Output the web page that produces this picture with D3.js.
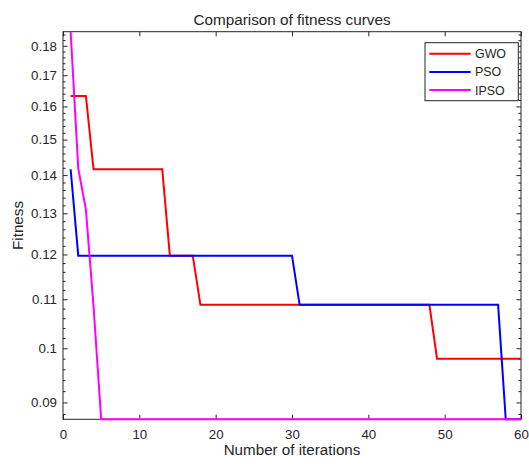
<!DOCTYPE html>
<html>
<head>
<meta charset="utf-8">
<script src="https://cdn.jsdelivr.net/npm/d3@7"></script>
<style>
  body { margin: 0; background: #fff; }
  text { font-family: "Liberation Sans", Arial, sans-serif; fill: #262626; }
</style>
</head>
<body>
<div id="chart"></div>
<script>
// data (breakpoints of the step curves)
var gwoIter = [1, 3, 4, 13, 14, 17, 18, 48, 49, 60];
var gwoFit = [0.1633, 0.1633, 0.1416, 0.1416, 0.1197, 0.1197, 0.1088, 0.1088, 0.0980, 0.0980];
var psoIter = [1, 2, 30, 31, 57, 58, 60];
var psoFit = [0.1416, 0.1197, 0.1197, 0.1088, 0.1088, 0.0871, 0.0871];
var ipsoIter = [1, 2, 3, 4, 5, 60];
var ipsoFit = [0.185, 0.1418, 0.1309, 0.1085, 0.0871, 0.0871];

var seriesNames = ['GWO', 'PSO', 'IPSO'];
var seriesColors = ['#ff0000', '#0000ff', '#ff00ff'];
var xTicks = [0, 10, 20, 30, 40, 50, 60];
var yTicks = [0.09, 0.1, 0.11, 0.12, 0.13, 0.14, 0.15, 0.16, 0.17, 0.18];
var yMinorTicks = [0.088, 0.092, 0.094, 0.096, 0.098, 0.102, 0.104, 0.106, 0.108, 0.112, 0.114, 0.116, 0.118,
    0.122, 0.124, 0.126, 0.128, 0.132, 0.134, 0.136, 0.138, 0.142, 0.144, 0.146, 0.148,
    0.152, 0.154, 0.156, 0.158, 0.162, 0.164, 0.166, 0.168, 0.172, 0.174, 0.176, 0.178, 0.182, 0.184];

var width = 529, height = 466;
var plotLeft = 63, plotRight = 521, plotTop = 31.7, plotBottom = 419.3;
var axisColor = '#262626';

var svg = d3.select('#chart').append('svg')
    .attr('width', width)
    .attr('height', height);

svg.append('rect').attr('width', width).attr('height', height).attr('fill', '#fff');

var xScale = d3.scaleLinear().domain([0, 60]).range([plotLeft, plotRight]);
var yScale = d3.scaleLog().domain([0.0871, 0.185]).range([plotBottom, plotTop]);

// box
svg.append('rect')
    .attr('x', plotLeft).attr('y', plotTop)
    .attr('width', plotRight - plotLeft).attr('height', plotBottom - plotTop)
    .attr('fill', 'none').attr('stroke', axisColor).attr('stroke-width', 1);

// x axis (ticks inside, mirrored on top)
var xAxis = svg.append('g')
    .attr('transform', 'translate(0,' + plotBottom + ')')
    .call(d3.axisBottom(xScale).tickValues(xTicks).tickSizeInner(-4.6).tickSizeOuter(0).tickPadding(10));
xAxis.select('.domain').remove();
xAxis.selectAll('line').attr('stroke', axisColor);
xAxis.selectAll('text').style('font-size', '13.3px').attr('fill', axisColor);

var xTop = svg.append('g')
    .attr('transform', 'translate(0,' + plotTop + ')')
    .call(d3.axisTop(xScale).tickValues(xTicks).tickSizeInner(-4.6).tickSizeOuter(0).tickFormat(''));
xTop.select('.domain').remove();
xTop.selectAll('line').attr('stroke', axisColor);

// y axis (log, ticks inside, mirrored on right)
var yAxis = svg.append('g')
    .attr('transform', 'translate(' + plotLeft + ',0)')
    .call(d3.axisLeft(yScale).tickValues(yTicks).tickSizeInner(-4.6).tickSizeOuter(0).tickPadding(6)
        .tickFormat(function (d) { return d3.format('~g')(d); }));
yAxis.select('.domain').remove();
yAxis.selectAll('line').attr('stroke', axisColor);
yAxis.selectAll('text').style('font-size', '13.3px').attr('fill', axisColor);

var yRight = svg.append('g')
    .attr('transform', 'translate(' + plotRight + ',0)')
    .call(d3.axisRight(yScale).tickValues(yTicks).tickSizeInner(-4.6).tickSizeOuter(0).tickFormat(''));
yRight.select('.domain').remove();
yRight.selectAll('line').attr('stroke', axisColor);

// minor ticks
var yMinorL = svg.append('g')
    .attr('transform', 'translate(' + plotLeft + ',0)')
    .call(d3.axisLeft(yScale).tickValues(yMinorTicks).tickSizeInner(-2.6).tickSizeOuter(0).tickFormat(''));
yMinorL.select('.domain').remove();
yMinorL.selectAll('line').attr('stroke', axisColor);
var yMinorR = svg.append('g')
    .attr('transform', 'translate(' + plotRight + ',0)')
    .call(d3.axisRight(yScale).tickValues(yMinorTicks).tickSizeInner(-2.6).tickSizeOuter(0).tickFormat(''));
yMinorR.select('.domain').remove();
yMinorR.selectAll('line').attr('stroke', axisColor);

// labels
svg.append('text')
    .attr('x', (plotLeft + plotRight) / 2).attr('y', 25)
    .attr('text-anchor', 'middle')
    .style('font-size', '15.3px')
    .text('Comparison of fitness curves');

svg.append('text')
    .attr('x', (plotLeft + plotRight) / 2).attr('y', 455)
    .attr('text-anchor', 'middle')
    .style('font-size', '15.2px')
    .text('Number of iterations');

svg.append('text')
    .attr('transform', 'translate(23,' + ((plotTop + plotBottom) / 2) + ') rotate(-90)')
    .attr('text-anchor', 'middle')
    .style('font-size', '15.2px')
    .text('Fitness');

// curves
var series = [
    { iter: gwoIter, fit: gwoFit },
    { iter: psoIter, fit: psoFit },
    { iter: ipsoIter, fit: ipsoFit }
];

var line = d3.line()
    .x(function (d) { return xScale(d[0]); })
    .y(function (d) { return yScale(d[1]); });

series.forEach(function (s, i) {
    var pts = s.iter.map(function (x, j) { return [x, s.fit[j]]; });
    svg.append('path')
        .datum(pts)
        .attr('d', line)
        .attr('fill', 'none')
        .attr('stroke', seriesColors[i])
        .attr('stroke-width', 2);
});

// legend
var legend = svg.append('g');
legend.append('rect')
    .attr('x', 425).attr('y', 42.7)
    .attr('width', 93.3).attr('height', 58)
    .attr('fill', '#fff').attr('stroke', '#262626').attr('stroke-width', 1);
seriesNames.forEach(function (name, i) {
    var y = 53.7 + i * 18.2;
    legend.append('line')
        .attr('x1', 429.3).attr('x2', 470.7)
        .attr('y1', y).attr('y2', y)
        .attr('stroke', seriesColors[i]).attr('stroke-width', 2);
    legend.append('text')
        .attr('x', 475).attr('y', y + 4.5)
        .style('font-size', '12.4px')
        .text(name);
});
</script>
</body>
</html>
